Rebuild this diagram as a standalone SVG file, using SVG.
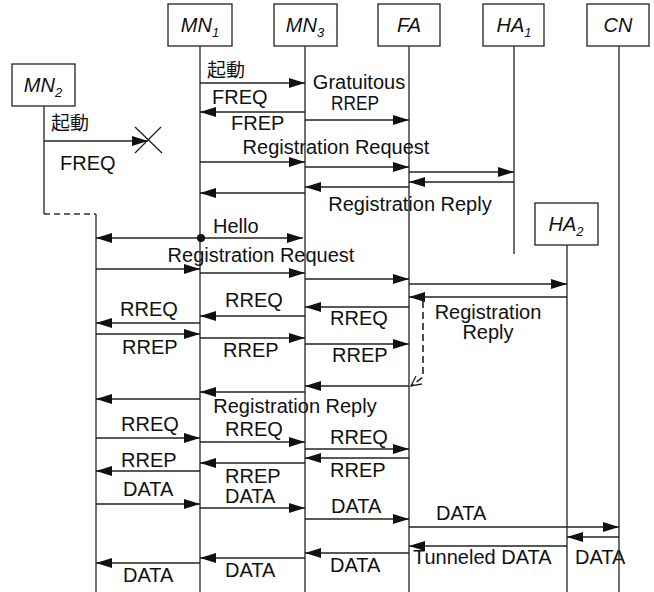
<svg xmlns="http://www.w3.org/2000/svg" width="654" height="592" viewBox="0 0 654 592">
<style>
  .box { fill: #fff; stroke: #222; stroke-width: 1.3; }
  .life { stroke: #333; stroke-width: 1.4; fill: none; }
  .msg { stroke: #222; stroke-width: 1.3; fill: none; marker-end: url(#ah); }
  .hdr { font-family: "Liberation Sans", Arial, sans-serif; font-style: italic; font-size: 20px; fill: #111; }
  .sub { font-size: 13px; }
  .lbl { font-family: "Liberation Sans", Arial, "Noto Sans CJK JP", sans-serif; font-size: 20px; fill: #111; }
  .cjk { font-family: "Noto Sans CJK JP", sans-serif; font-size: 19px; fill: #111; }
</style>
<defs>
  <marker id="ah" viewBox="0 0 16 10" refX="16" refY="5" markerWidth="16" markerHeight="10" orient="auto-start-reverse" markerUnits="userSpaceOnUse">
    <path d="M0,0 L16,5 L0,10 z" fill="#111"/>
  </marker>
  <marker id="oh" viewBox="0 0 12 12" refX="11" refY="6" markerWidth="12" markerHeight="12" orient="auto" markerUnits="userSpaceOnUse">
    <path d="M1,1 L11,6 L1,11" fill="none" stroke="#222" stroke-width="1.3"/>
  </marker>
</defs>
<rect width="654" height="592" fill="#fff"/>

<g id="MN1">
  <rect class="box" x="168" y="4" width="64" height="42"/>
  <text class="hdr" x="200" y="32" text-anchor="middle">MN<tspan class="sub" dy="5">1</tspan></text>
  <line class="life" x1="200" y1="46" x2="200" y2="592"/>
</g>
<g id="MN3">
  <rect class="box" x="274" y="4" width="63" height="42"/>
  <text class="hdr" x="305" y="32" text-anchor="middle">MN<tspan class="sub" dy="5">3</tspan></text>
  <line class="life" x1="305" y1="46" x2="305" y2="592"/>
</g>
<g id="FA">
  <rect class="box" x="378" y="4" width="62" height="42"/>
  <text class="hdr" x="409" y="32" text-anchor="middle">FA</text>
  <line class="life" x1="409" y1="46" x2="409" y2="592"/>
</g>
<g id="HA1">
  <rect class="box" x="483" y="4" width="61" height="42"/>
  <text class="hdr" x="514" y="32" text-anchor="middle">HA<tspan class="sub" dy="5">1</tspan></text>
  <line class="life" x1="514" y1="46" x2="514" y2="254"/>
</g>
<g id="CN">
  <rect class="box" x="587" y="4" width="62" height="42"/>
  <text class="hdr" x="618" y="32" text-anchor="middle">CN</text>
  <line class="life" x1="619" y1="46" x2="619" y2="592"/>
</g>
<g id="MN2">
  <rect class="box" x="12" y="64" width="63" height="42"/>
  <text class="hdr" x="43" y="92" text-anchor="middle">MN<tspan class="sub" dy="5">2</tspan></text>
  <line class="life" x1="44" y1="106" x2="44" y2="214"/>
  <line class="life" x1="44" y1="214" x2="96" y2="214" stroke-dasharray="6,4"/>
  <line class="life" x1="96" y1="214" x2="96" y2="592"/>
</g>
<g id="HA2">
  <rect class="box" x="535" y="203" width="63" height="42"/>
  <text class="hdr" x="566" y="231" text-anchor="middle">HA<tspan class="sub" dy="5">2</tspan></text>
  <line class="life" x1="567" y1="245" x2="567" y2="592"/>
</g>

<g id="connectors">
  <line class="msg" x1="200" y1="83" x2="305" y2="83"/>
  <line class="msg" x1="305" y1="112" x2="200" y2="112"/>
  <line class="msg" x1="305" y1="120" x2="409" y2="120"/>
  <line class="msg" x1="44" y1="141" x2="148" y2="141"/>
  <path d="M135,127 L162,153 M135,153 L161,127" stroke="#222" stroke-width="1.3" fill="none"/>
  <line class="msg" x1="200" y1="162" x2="305" y2="162"/>
  <line class="msg" x1="305" y1="167" x2="409" y2="167"/>
  <line class="msg" x1="409" y1="172" x2="514" y2="172"/>
  <line class="msg" x1="514" y1="182" x2="409" y2="182"/>
  <line class="msg" x1="409" y1="187" x2="305" y2="187"/>
  <line class="msg" x1="305" y1="193" x2="200" y2="193"/>
  <line class="msg" x1="96" y1="238" x2="303" y2="238" marker-start="url(#ah)"/>
  <circle cx="201" cy="238" r="4" fill="#111"/>
  <line class="msg" x1="96" y1="269" x2="200" y2="269"/>
  <line class="msg" x1="200" y1="273" x2="305" y2="273"/>
  <line class="msg" x1="305" y1="279" x2="409" y2="279"/>
  <line class="msg" x1="409" y1="284" x2="567" y2="284"/>
  <line class="msg" x1="567" y1="297" x2="409" y2="297"/>
  <path d="M423,301 L423,377 L411,386" stroke="#222" stroke-width="1.6" fill="none" stroke-dasharray="7,4" marker-end="url(#oh)"/>
  <line class="msg" x1="409" y1="307" x2="305" y2="307"/>
  <line class="msg" x1="305" y1="316" x2="200" y2="316"/>
  <line class="msg" x1="200" y1="323" x2="96" y2="323"/>
  <line class="msg" x1="96" y1="334" x2="200" y2="334"/>
  <line class="msg" x1="200" y1="338" x2="305" y2="338"/>
  <line class="msg" x1="305" y1="344" x2="409" y2="344"/>
  <line class="msg" x1="409" y1="386" x2="305" y2="386"/>
  <line class="msg" x1="305" y1="392" x2="200" y2="392"/>
  <line class="msg" x1="200" y1="399" x2="96" y2="399"/>
  <line class="msg" x1="96" y1="438" x2="200" y2="438"/>
  <line class="msg" x1="200" y1="442" x2="305" y2="442"/>
  <line class="msg" x1="305" y1="449" x2="409" y2="449"/>
  <line class="msg" x1="409" y1="458" x2="305" y2="458"/>
  <line class="msg" x1="305" y1="463" x2="200" y2="463"/>
  <line class="msg" x1="200" y1="471" x2="96" y2="471"/>
  <line class="msg" x1="96" y1="504" x2="200" y2="504"/>
  <line class="msg" x1="200" y1="508" x2="305" y2="508"/>
  <line class="msg" x1="305" y1="519" x2="409" y2="519"/>
  <line class="msg" x1="409" y1="527" x2="619" y2="527"/>
  <line class="msg" x1="619" y1="537" x2="567" y2="537"/>
  <line class="msg" x1="567" y1="546" x2="409" y2="546"/>
  <line class="msg" x1="409" y1="553" x2="305" y2="553"/>
  <line class="msg" x1="305" y1="558" x2="200" y2="558"/>
  <line class="msg" x1="200" y1="563" x2="96" y2="563"/>
</g>

<g id="labels">
  <text class="cjk" x="207" y="77">起動</text>
  <text class="lbl" x="212" y="104">FREQ</text>
  <text class="lbl" x="231" y="130">FREP</text>
  <text class="lbl" x="359" y="89" text-anchor="middle">Gratuitous</text>
  <text class="lbl" x="355" y="110" text-anchor="middle" textLength="48" lengthAdjust="spacingAndGlyphs">RREP</text>
  <text class="cjk" x="51" y="130">起動</text>
  <text class="lbl" x="60" y="170">FREQ</text>
  <text class="lbl" x="336" y="154" text-anchor="middle">Registration Request</text>
  <text class="lbl" x="410" y="211" text-anchor="middle">Registration Reply</text>
  <text class="lbl" x="213" y="233">Hello</text>
  <text class="lbl" x="261" y="262" text-anchor="middle">Registration Request</text>
  <text class="lbl" x="488" y="319" text-anchor="middle">Registration</text>
  <text class="lbl" x="488" y="339" text-anchor="middle">Reply</text>
  <text class="lbl" x="225" y="307">RREQ</text>
  <text class="lbl" x="120" y="316">RREQ</text>
  <text class="lbl" x="330" y="325">RREQ</text>
  <text class="lbl" x="122" y="354">RREP</text>
  <text class="lbl" x="223" y="357">RREP</text>
  <text class="lbl" x="332" y="362">RREP</text>
  <text class="lbl" x="295" y="413" text-anchor="middle">Registration Reply</text>
  <text class="lbl" x="121" y="431">RREQ</text>
  <text class="lbl" x="225" y="436">RREQ</text>
  <text class="lbl" x="330" y="444">RREQ</text>
  <text class="lbl" x="121" y="467">RREP</text>
  <text class="lbl" x="330" y="477">RREP</text>
  <text class="lbl" x="225" y="483">RREP</text>
  <text class="lbl" x="123" y="496">DATA</text>
  <text class="lbl" x="225" y="503">DATA</text>
  <text class="lbl" x="331" y="513">DATA</text>
  <text class="lbl" x="436" y="520">DATA</text>
  <text class="lbl" x="575" y="564">DATA</text>
  <text class="lbl" x="413" y="564">Tunneled DATA</text>
  <text class="lbl" x="330" y="572">DATA</text>
  <text class="lbl" x="225" y="577">DATA</text>
  <text class="lbl" x="123" y="582">DATA</text>
</g>
</svg>
